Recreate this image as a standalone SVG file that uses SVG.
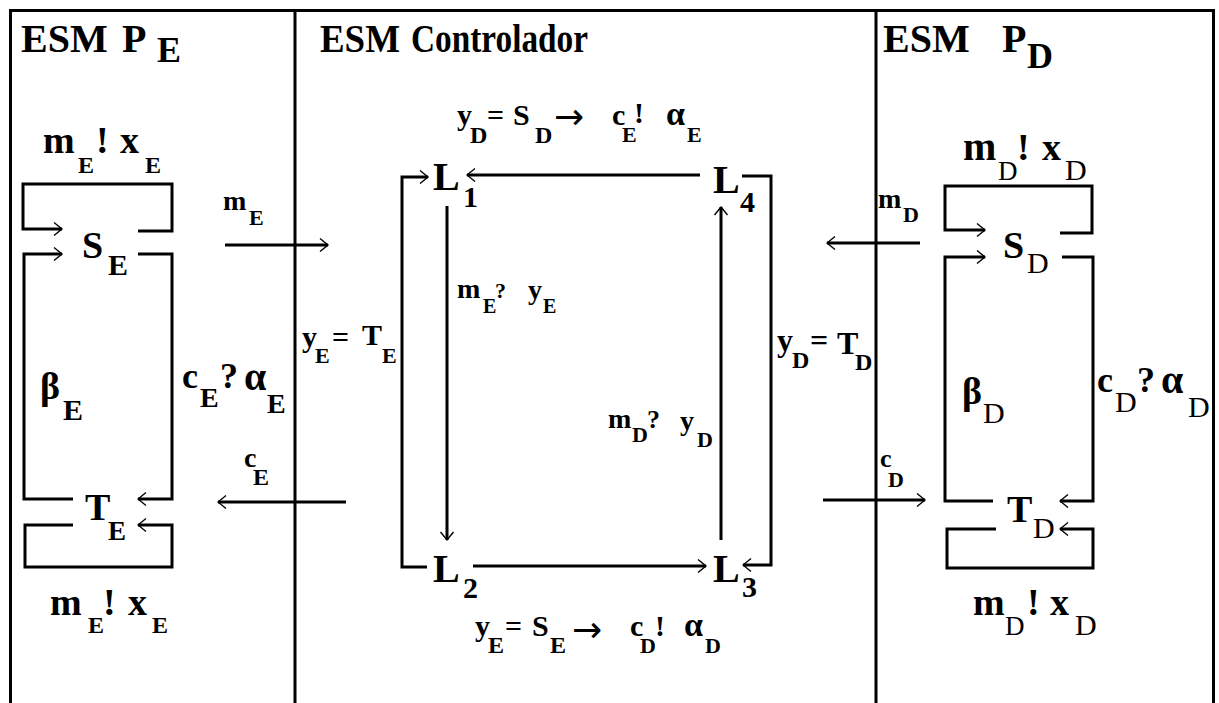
<svg xmlns="http://www.w3.org/2000/svg" width="1219" height="703" viewBox="0 0 1219 703">
<style>
text{font-family:"Liberation Serif","Times New Roman",serif;font-weight:bold;fill:#000}
.n{font-weight:normal}
.arw{font-family:"DejaVu Sans",sans-serif;font-weight:normal}
.ln{fill:none;stroke:#000;stroke-width:3}
.ar{marker-end:url(#ah)}
</style>
<defs>
<marker id="ah" markerUnits="userSpaceOnUse" markerWidth="11" markerHeight="16" viewBox="0 0 11 16" refX="9.5" refY="8" orient="auto">
<path d="M1.5,1.5 L9.5,8 L1.5,14.5" fill="none" stroke="#000" stroke-width="1.4"/>
</marker>
</defs>
<rect width="1219" height="703" fill="#fff"/>
<g id="frame">
<rect x="10.5" y="10.5" width="1203" height="694" class="ln"/>
<line x1="295" y1="10" x2="295" y2="703" class="ln"/>
<line x1="876" y1="10" x2="876" y2="703" class="ln"/>
</g>
<g id="titles">
<text x="21" y="52" font-size="40">ESM</text><text x="122" y="52" font-size="40">P</text><text x="157" y="62" font-size="36">E</text>
<text x="320" y="52" font-size="40" textLength="80" lengthAdjust="spacingAndGlyphs">ESM</text><text x="411" y="52" font-size="40" textLength="177" lengthAdjust="spacingAndGlyphs">Controlador</text>
<text x="883" y="52" font-size="40">ESM</text><text x="1002" y="52" font-size="40">P</text><text x="1027" y="68" font-size="36">D</text>
</g>
<g id="connectors">
<path class="ln ar" d="M138,231 H172 V184 H23 V229 H62"/>
<path class="ln ar" d="M73,499 H24 V254 H62"/>
<path class="ln ar" d="M138,254 H172 V499 H138"/>
<path class="ln ar" d="M73,525 H25 V567 H172 V525 H138"/>
<path class="ln ar" d="M1060,233 H1092 V186 H945 V230 H985"/>
<path class="ln ar" d="M993,501 H945 V257 H985"/>
<path class="ln ar" d="M1062,257 H1093 V501 H1060"/>
<path class="ln ar" d="M996,529 H947 V568 H1093 V529 H1060"/>
<path class="ln ar" d="M427,567 H402 V177 H428"/>
<path class="ln ar" d="M700,175 H467"/>
<path class="ln ar" d="M447,206 V540"/>
<path class="ln ar" d="M473,566 H706"/>
<path class="ln ar" d="M721,540 V207"/>
<path class="ln ar" d="M742,176 H771 V565 H743"/>
<path class="ln ar" d="M225,245 H328"/>
<path class="ln ar" d="M346,502 H218"/>
<path class="ln ar" d="M920,243 H827"/>
<path class="ln ar" d="M823,500 H925"/>
</g>
<g id="node-SE"><text x="82" y="258" font-size="38">S</text><text x="108" y="275" font-size="30">E</text></g>
<g id="node-TE"><text x="85" y="520" font-size="38">T</text><text x="108" y="540" font-size="27">E</text></g>
<g id="node-SD"><text x="1003" y="258" font-size="38">S</text><text class="n" x="1027" y="273" font-size="30">D</text></g>
<g id="node-TD"><text x="1007" y="522" font-size="38">T</text><text class="n" x="1033" y="538" font-size="30">D</text></g>
<g id="node-L1"><text x="433" y="190" font-size="40">L</text><text x="463" y="207" font-size="30">1</text></g>
<g id="node-L2"><text x="433" y="582" font-size="40">L</text><text x="463" y="598" font-size="30">2</text></g>
<g id="node-L3"><text x="713" y="582" font-size="40">L</text><text x="742" y="597" font-size="30">3</text></g>
<g id="node-L4"><text x="713" y="193" font-size="40">L</text><text x="740" y="212" font-size="30">4</text></g>
<g id="labels">
<text x="43" y="153" font-size="38">m</text><text x="78" y="173" font-size="24">E</text><text x="96" y="153" font-size="38">!</text><text x="120" y="153" font-size="38">x</text><text x="145" y="173" font-size="24">E</text>
<text x="50" y="615" font-size="38">m</text><text x="88" y="633" font-size="24">E</text><text x="103" y="615" font-size="38">!</text><text x="128" y="615" font-size="38">x</text><text x="152" y="633" font-size="24">E</text>
<text x="40" y="399" font-size="38">β</text><text x="63" y="420" font-size="30">E</text>
<text x="182" y="388" font-size="36">c</text><text x="200" y="407" font-size="28">E</text><text x="220" y="388" font-size="36">?</text><text x="244" y="390" font-size="40">α</text><text x="267" y="413" font-size="28">E</text>
<text x="223" y="210" font-size="28">m</text><text x="249" y="225" font-size="22">E</text>
<text x="244" y="467" font-size="28">c</text><text x="253" y="485" font-size="24">E</text>
<text x="457" y="125" font-size="30">y</text><text x="470" y="143" font-size="24">D</text><text x="487" y="125" font-size="30">=</text><text x="513" y="125" font-size="30">S</text><text x="535" y="143" font-size="24">D</text><text class="arw" x="554" y="129" font-size="36">→</text><text x="612" y="125" font-size="30">c</text><text x="622" y="142" font-size="22">E</text><text x="634" y="123" font-size="30">!</text><text x="666" y="125" font-size="34">α</text><text x="687" y="142" font-size="22">E</text>
<text x="475" y="636" font-size="30">y</text><text x="488" y="653" font-size="24">E</text><text x="505" y="636" font-size="30">=</text><text x="532" y="636" font-size="30">S</text><text x="550" y="653" font-size="24">E</text><text class="arw" x="572" y="642" font-size="36">→</text><text x="630" y="636" font-size="30">c</text><text x="640" y="653" font-size="22">D</text><text x="655" y="636" font-size="30">!</text><text x="684" y="636" font-size="34">α</text><text x="705" y="653" font-size="22">D</text>
<text x="457" y="298" font-size="28">m</text><text x="483" y="313" font-size="20">E</text><text x="495" y="298" font-size="22">?</text><text x="528" y="299" font-size="28">y</text><text x="543" y="313" font-size="20">E</text>
<text x="608" y="428" font-size="28">m</text><text x="632" y="442" font-size="22">D</text><text x="647" y="428" font-size="26">?</text><text x="680" y="430" font-size="28">y</text><text x="697" y="447" font-size="22">D</text>
<text x="302" y="347" font-size="30">y</text><text x="315" y="363" font-size="22">E</text><text x="332" y="347" font-size="30">=</text><text x="362" y="345" font-size="30">T</text><text x="382" y="363" font-size="22">E</text>
<text x="777" y="351" font-size="32">y</text><text x="792" y="368" font-size="24">D</text><text x="810" y="351" font-size="32">=</text><text x="837" y="354" font-size="32">T</text><text x="855" y="370" font-size="24">D</text>
<text x="878" y="208" font-size="28">m</text><text x="903" y="222" font-size="22">D</text>
<text x="880" y="467" font-size="26">c</text><text x="888" y="487" font-size="22">D</text>
<text x="963" y="160" font-size="40">m</text><text class="n" x="998" y="180" font-size="27">D</text><text x="1017" y="160" font-size="38">!</text><text x="1042" y="160" font-size="38">x</text><text class="n" x="1065" y="180" font-size="30">D</text>
<text x="973" y="615" font-size="38">m</text><text class="n" x="1005" y="635" font-size="27">D</text><text x="1027" y="615" font-size="38">!</text><text x="1050" y="615" font-size="38">x</text><text class="n" x="1075" y="635" font-size="30">D</text>
<text x="962" y="404" font-size="38">β</text><text class="n" x="983" y="423" font-size="30">D</text>
<text x="1097" y="392" font-size="36">c</text><text class="n" x="1115" y="412" font-size="30">D</text><text x="1137" y="392" font-size="36">?</text><text x="1161" y="393" font-size="40">α</text><text class="n" x="1188" y="417" font-size="30">D</text>
</g>
</svg>
